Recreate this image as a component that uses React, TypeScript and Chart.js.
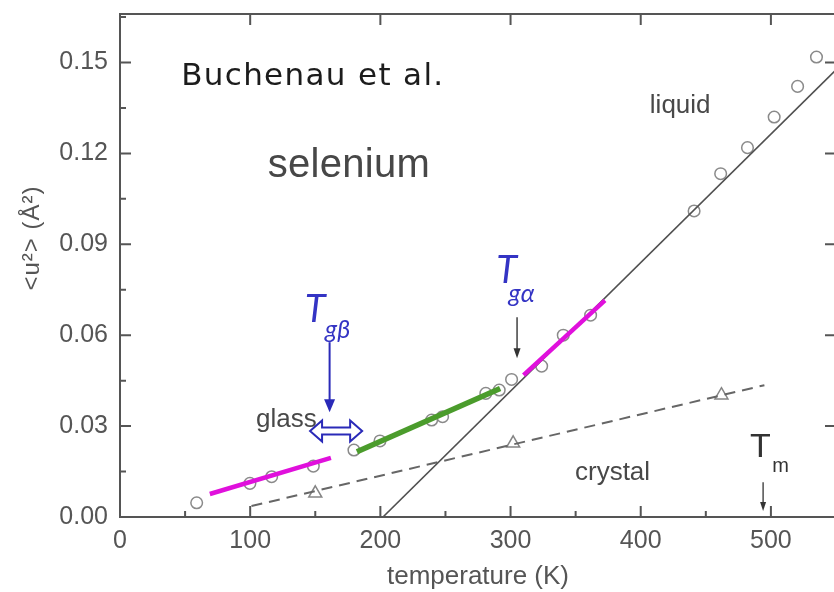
import { useEffect, useRef } from "react";
import { Chart, registerables } from "chart.js";

Chart.register(...registerables);

// Axis ticks
const tempTicks = [0, 100, 200, 300, 400, 500];
const msdTicks = [0, 0.03, 0.06, 0.09, 0.12, 0.15];

// Glass / supercooled liquid / liquid mean-square displacement (open circles)
const seleniumT = [58.9, 99.8, 116.5, 148.5, 179.7, 199.7, 239.4, 247.8, 281, 291.3, 300.8, 323.9, 340.5, 361.5, 441, 461.4, 482, 502.5, 520.5, 535];
const seleniumU2 = [0.0047, 0.0111, 0.0133, 0.0168, 0.0221, 0.0251, 0.032, 0.0331, 0.0408, 0.0419, 0.0454, 0.0498, 0.06, 0.0666, 0.101, 0.1133, 0.1219, 0.132, 0.1421, 0.1518];

// Crystal (open triangles)
const crystalT = [150, 302, 462];
const crystalU2 = [0.0078, 0.0243, 0.0402];

// Straight-line fits
const liquidFitT = [202, 550];
const liquidFitU2 = [0, 0.1476];
const crystalFitT = [101, 495];
const crystalFitU2 = [0.0036, 0.0435];
const lowGlassFitT = [69, 162];
const lowGlassFitU2 = [0.0076, 0.0195];
const midGlassFitT = [182, 292];
const midGlassFitU2 = [0.0215, 0.0424];
const supercooledFitT = [310, 372.5];
const supercooledFitU2 = [0.0468, 0.0715];

// Marked temperatures (K)
const tgBeta = 161;
const tgAlpha = 305;
const tMelt = 494;

const pts = (xs: number[], ys: number[]) => xs.map((x, i) => ({ x, y: ys[i] }));

const AXIS = "#555555";
const SANS = '"Liberation Sans", Arial, sans-serif';
const ITALIC = 'Lato, "Open Sans", "DejaVu Sans", sans-serif';
const BLUE = "#3434c4";

function drawFitted(ctx: CanvasRenderingContext2D, text: string, x: number, y: number, width: number) {
  (ctx as any).letterSpacing = "0px";
  const w0 = ctx.measureText(text).width;
  const ls = (width - w0) / Math.max(1, text.length - 1);
  (ctx as any).letterSpacing = ls + "px";
  ctx.fillText(text, x, y);
  (ctx as any).letterSpacing = "0px";
}

function arrowDown(ctx: CanvasRenderingContext2D, x: number, y0: number, y1: number, color: string, lw: number, headW: number, headL: number) {
  ctx.save();
  ctx.strokeStyle = color;
  ctx.fillStyle = color;
  ctx.lineWidth = lw;
  ctx.beginPath();
  ctx.moveTo(x, y0);
  ctx.lineTo(x, y1 - headL + 1);
  ctx.stroke();
  ctx.beginPath();
  ctx.moveTo(x - headW / 2, y1 - headL);
  ctx.lineTo(x + headW / 2, y1 - headL);
  ctx.lineTo(x, y1);
  ctx.closePath();
  ctx.fill();
  ctx.restore();
}

const framePlugin = {
  id: "frame",
  afterDatasetsDraw(chart: any) {
    const { ctx, chartArea: a, scales } = chart;
    const xs = scales.x;
    const ys = scales.y;
    ctx.save();
    ctx.strokeStyle = AXIS;
    ctx.lineWidth = 2;
    ctx.beginPath();
    ctx.rect(a.left, a.top, a.right - a.left, a.bottom - a.top);
    ctx.stroke();
    ctx.beginPath();
    tempTicks.forEach((t) => {
      const p = xs.getPixelForValue(t);
      ctx.moveTo(p, a.bottom);
      ctx.lineTo(p, a.bottom - 11);
      ctx.moveTo(p, a.top);
      ctx.lineTo(p, a.top + 11);
      const m = xs.getPixelForValue(t + 50);
      if (m < a.right - 2) {
        ctx.moveTo(m, a.bottom);
        ctx.lineTo(m, a.bottom - 6);
      }
    });
    msdTicks.forEach((v) => {
      const p = ys.getPixelForValue(v);
      ctx.moveTo(a.left, p);
      ctx.lineTo(a.left + 11, p);
      ctx.moveTo(a.right, p);
      ctx.lineTo(a.right - 11, p);
      const m = ys.getPixelForValue(v + 0.015);
      if (m > a.top + 1) {
        ctx.moveTo(a.left, m);
        ctx.lineTo(a.left + 6, m);
      }
    });
    ctx.stroke();
    ctx.restore();
  },
};

const annotatePlugin = {
  id: "annotate",
  afterDraw(chart: any) {
    const { ctx, scales } = chart;
    const X = (t: number) => scales.x.getPixelForValue(t);
    const Y = (v: number) => scales.y.getPixelForValue(v);
    ctx.save();
    ctx.textAlign = "left";
    ctx.textBaseline = "alphabetic";

    // y-axis title
    ctx.save();
    ctx.translate(39, 238);
    ctx.rotate(-Math.PI / 2);
    ctx.textAlign = "center";
    ctx.fillStyle = AXIS;
    ctx.font = `24px ${SANS}`;
    drawFitted(ctx, "<u²> (Å²)", 0, 0, 104);
    ctx.restore();

    ctx.fillStyle = "#1c1c1c";
    ctx.font = '31px "DejaVu Sans", "Open Sans", sans-serif';
    drawFitted(ctx, "Buchenau et al.", X(47), Y(0.1425), 262);

    ctx.fillStyle = "#474747";
    ctx.font = `40px ${SANS}`;
    drawFitted(ctx, "selenium", X(113.5), Y(0.1122), 162);

    ctx.fillStyle = "#484848";
    ctx.font = `26px ${SANS}`;
    ctx.fillText("liquid", X(407), Y(0.1333));
    ctx.fillText("glass", X(104.5), Y(0.0297));
    ctx.fillText("crystal", X(349.5), Y(0.0122));

    // melting point
    ctx.fillStyle = "#333333";
    ctx.font = `34px ${SANS}`;
    ctx.fillText("T", X(484), Y(0.0198));
    ctx.font = `20px ${SANS}`;
    ctx.fillText("m", X(501), Y(0.0149));
    arrowDown(ctx, X(tMelt), Y(0.0115), Y(0.002), "#333333", 1.3, 6, 9);

    // alpha glass transition
    ctx.fillStyle = BLUE;
    ctx.font = `italic 38px ${ITALIC}`;
    ctx.fillText("T", X(289), Y(0.0772));
    ctx.font = `italic 25px ${ITALIC}`;
    ctx.fillText("gα", X(298.5), Y(0.071));
    arrowDown(ctx, X(tgAlpha), Y(0.0659), Y(0.0524), "#333333", 1.4, 7, 10);

    // beta glass transition
    ctx.fillStyle = BLUE;
    ctx.font = `italic 38px ${ITALIC}`;
    ctx.fillText("T", X(142), Y(0.0644));
    ctx.font = `italic 25px ${ITALIC}`;
    ctx.fillText("gβ", X(157.5), Y(0.0591));
    arrowDown(ctx, X(tgBeta), Y(0.0577), Y(0.0346), "#2a2ab8", 2, 11, 13);

    // hollow double arrow around T_gβ
    const xl = X(146);
    const xr = X(186);
    const yc = Y(0.0284);
    const sh = 3.5;
    const hh = 10.5;
    const hl = 12;
    ctx.beginPath();
    ctx.moveTo(xl, yc);
    ctx.lineTo(xl + hl, yc - hh);
    ctx.lineTo(xl + hl, yc - sh);
    ctx.lineTo(xr - hl, yc - sh);
    ctx.lineTo(xr - hl, yc - hh);
    ctx.lineTo(xr, yc);
    ctx.lineTo(xr - hl, yc + hh);
    ctx.lineTo(xr - hl, yc + sh);
    ctx.lineTo(xl + hl, yc + sh);
    ctx.lineTo(xl + hl, yc + hh);
    ctx.closePath();
    ctx.fillStyle = "#ffffff";
    ctx.fill();
    ctx.strokeStyle = "#2a2ab8";
    ctx.lineWidth = 2;
    ctx.lineJoin = "miter";
    ctx.stroke();
    ctx.restore();
  },
};

const fitLine = (xs: number[], ys: number[], color: string, width: number, dash: number[] = []) => ({
  data: pts(xs, ys),
  showLine: true,
  borderColor: color,
  borderWidth: width,
  borderDash: dash,
  pointRadius: 0,
  fill: false,
});

// fixed axis boxes; no extra label padding around the plot area
const fixBox = (w: number | null, h: number | null) => (s: any) => {
  if (w !== null) s.width = w;
  if (h !== null) s.height = h;
  s.paddingTop = 0;
  s.paddingBottom = 0;
  s.paddingLeft = 0;
  s.paddingRight = 0;
};

export default function App() {
  const canvasRef = useRef<HTMLCanvasElement | null>(null);

  useEffect(() => {
    const canvas = canvasRef.current;
    if (!canvas) return;
    const chart = new Chart(canvas, {
      type: "scatter",
      data: {
        datasets: [
          fitLine(lowGlassFitT, lowGlassFitU2, "#e010dc", 4.5),
          fitLine(supercooledFitT, supercooledFitU2, "#e010dc", 4.5),
          fitLine(midGlassFitT, midGlassFitU2, "#4b9c2c", 5.5),
          fitLine(liquidFitT, liquidFitU2, "#505050", 1.6),
          fitLine(crystalFitT, crystalFitU2, "#666666", 2, [11, 7]),
          {
            data: pts(seleniumT, seleniumU2),
            pointStyle: "circle",
            pointRadius: 5.8,
            borderWidth: 1.5,
            borderColor: "#8a8a8a",
            backgroundColor: "rgba(0,0,0,0)",
          },
          {
            data: pts(crystalT, crystalU2),
            pointStyle: "triangle",
            pointRadius: 7.5,
            borderWidth: 1.5,
            borderColor: "#858585",
            backgroundColor: "rgba(0,0,0,0)",
          },
        ] as any,
      },
      options: {
        animation: false,
        responsive: false,
        devicePixelRatio: 1,
        layout: { autoPadding: false, padding: { top: 14, right: 0, left: 0, bottom: 0 } },
        plugins: { legend: { display: false }, tooltip: { enabled: false } },
        scales: {
          x: {
            type: "linear",
            min: 0,
            max: 550,
            afterFit: fixBox(null, 75),
            grid: { display: false, drawTicks: false },
            border: { display: false },
            ticks: {
              stepSize: 100,
              includeBounds: false,
              padding: 9,
              color: AXIS,
              font: { family: SANS, size: 25 },
            },
            title: {
              display: true,
              text: "temperature (K)",
              color: AXIS,
              font: { family: SANS, size: 26 },
              padding: { top: 0, bottom: 0 },
            },
          },
          y: {
            type: "linear",
            min: 0,
            max: 0.166,
            afterFit: fixBox(120, null),
            grid: { display: false, drawTicks: false },
            border: { display: false },
            ticks: {
              stepSize: 0.03,
              includeBounds: false,
              padding: 12,
              color: AXIS,
              font: { family: SANS, size: 25 },
              callback: (v: any) => Number(v).toFixed(2),
            },
          },
        },
      },
      plugins: [framePlugin, annotatePlugin],
    } as any);
    return () => chart.destroy();
  }, []);

  // The plot frame runs a couple of pixels past the right edge of the view.
  return (
    <div style={{ position: "absolute", left: 0, top: 0, width: 834, height: 592, overflow: "hidden", background: "#fff" }}>
      <canvas ref={canvasRef} width={836} height={592} style={{ display: "block" }} />
    </div>
  );
}
